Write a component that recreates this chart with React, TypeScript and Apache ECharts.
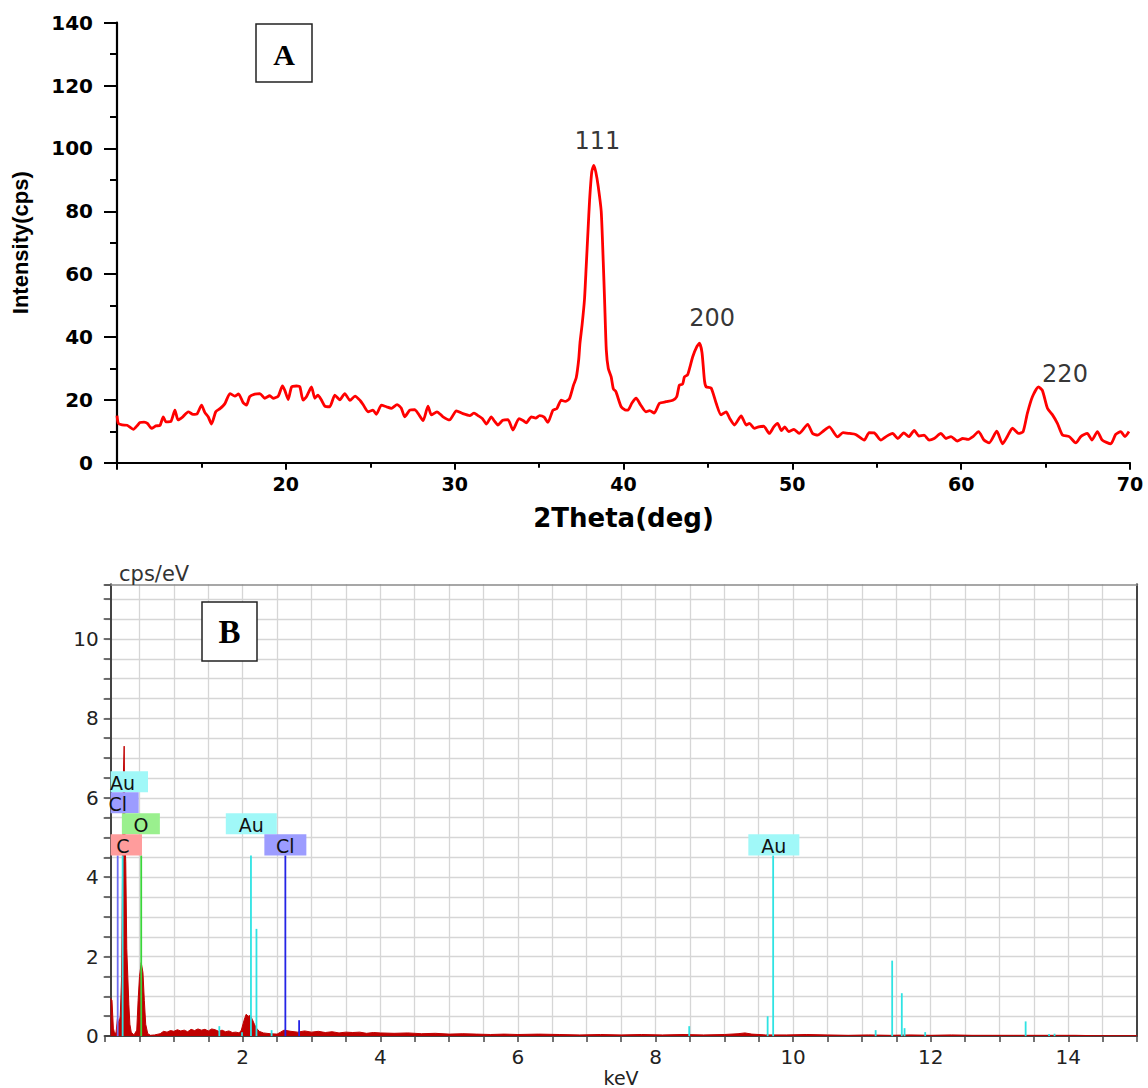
import React, { useEffect, useRef } from 'react';
import * as echarts from 'echarts';

// ---------- Panel A : XRD pattern ----------
const xrdTheta = [
  10.0, 10.08, 10.3, 10.6, 10.97, 11.2, 11.36, 11.6, 11.8, 12.05, 12.3, 12.55, 12.74, 12.9, 13.2, 13.43, 13.62, 13.9,
  14.22, 14.5, 14.75, 15.01, 15.2, 15.4, 15.6, 15.85, 16.1, 16.39, 16.69, 16.98, 17.2, 17.47, 17.67, 17.86, 18.16,
  18.46, 18.75, 19.05, 19.25, 19.55, 19.8, 19.94, 20.14, 20.34, 20.63, 20.83, 21.02, 21.22, 21.52, 21.72, 21.9, 22.1,
  22.31, 22.6, 22.9, 23.2, 23.49, 23.8, 24.1, 24.4, 24.6, 24.87, 25.16, 25.36, 25.66, 25.95, 26.25, 26.59, 26.84,
  27.04, 27.34, 27.63, 27.83, 28.13, 28.42, 28.62, 28.95, 29.31, 29.7, 30.1, 30.49, 30.89, 31.15, 31.38, 31.65,
  31.88, 32.17, 32.36, 32.56, 32.85, 33.16, 33.45, 33.81, 34.05, 34.24, 34.54, 34.8, 35.03, 35.3, 35.52, 35.82,
  36.05, 36.31, 36.55, 36.8, 37.04, 37.2, 37.35, 37.42, 37.55, 37.69, 37.79, 37.9, 37.99, 38.12, 38.24, 38.36,
  38.5, 38.68, 38.8, 38.88, 38.98, 39.1, 39.27, 39.4, 39.55, 39.86, 40.1, 40.26, 40.5, 40.75, 41.0, 41.33, 41.55,
  41.82, 42.13, 42.52, 42.92, 43.15, 43.31, 43.5, 43.61, 43.8, 44.1, 44.35, 44.5, 44.65, 44.8, 44.9, 45.19, 45.49,
  45.78, 46.08, 46.3, 46.57, 46.97, 47.27, 47.46, 47.75, 48.0, 48.3, 48.64, 48.9, 49.13, 49.35, 49.55, 49.78, 50.1,
  50.4, 50.91, 51.2, 51.5, 51.8, 52.19, 52.68, 53.0, 53.4, 53.75, 54.26, 54.55, 54.85, 55.25, 55.55, 55.94, 56.25,
  56.6, 56.9, 57.22, 57.5, 57.8, 58.1, 58.4, 58.8, 59.1, 59.4, 59.78, 60.1, 60.4, 60.7, 61.03, 61.35, 61.66, 62.11,
  62.45, 62.75, 63.04, 63.4, 63.67, 63.92, 64.22, 64.58, 64.81, 65.11, 65.4, 65.7, 66.0, 66.4, 66.79, 67.1, 67.47,
  67.75, 68.07, 68.35, 68.86, 69.15, 69.45, 69.7, 69.94,
];
const xrdIntensity = [
  15.0, 12.5, 12.0, 11.9, 10.6, 11.8, 12.8, 12.9, 12.5, 10.9, 11.7, 11.9, 14.6, 13.0, 13.2, 16.7, 13.6, 14.6,
  16.2, 15.4, 15.6, 18.3, 16.0, 14.6, 12.3, 16.2, 17.2, 18.8, 22.0, 21.2, 21.9, 19.1, 18.3, 21.0, 21.8,
  22.0, 20.5, 21.3, 20.5, 21.2, 24.4, 23.0, 20.1, 24.1, 24.4, 24.1, 19.9, 21.0, 24.1, 20.5, 21.5, 20.0,
  18.0, 17.8, 21.5, 20.0, 22.0, 19.8, 21.2, 19.8, 18.3, 16.2, 16.7, 15.4, 18.3, 17.8, 17.3, 18.5, 17.3,
  14.6, 16.7, 16.9, 15.7, 13.4, 18.0, 15.2, 16.2, 14.6, 13.6, 16.5, 15.6, 15.0, 15.8, 15.0, 14.0,
  12.3, 14.6, 13.2, 12.0, 13.5, 13.7, 10.4, 14.0, 13.4, 12.7, 14.6, 14.2, 15.0, 14.5, 12.8, 16.7,
  17.2, 19.9, 19.5, 20.4, 24.7, 27.0, 33.0, 38.0, 44.0, 52.0, 62.3, 74.0, 83.4, 92.5, 94.6, 92.5,
  88.0, 80.0, 64.0, 51.7, 36.0, 30.0, 27.3, 23.5, 22.6, 17.8, 16.8, 16.7, 19.0, 20.5, 18.5, 16.2, 16.6,
  15.8, 18.9, 19.4, 19.9, 21.0, 24.7, 25.0, 27.3, 28.0, 33.7, 37.0, 38.0, 35.0, 26.0, 24.1, 23.8, 18.9,
  15.2, 16.2, 14.0, 12.0, 14.9, 12.0, 12.5, 10.9, 11.4, 11.6, 9.3, 11.4, 12.5, 10.2, 11.4, 9.9, 10.6,
  9.3, 12.2, 9.3, 8.8, 9.9, 11.4, 8.2, 9.6, 9.3, 9.0, 7.2, 9.6, 9.5, 7.2, 8.3, 9.3, 7.7,
  9.5, 8.3, 10.3, 8.5, 8.8, 7.2, 7.7, 9.3, 7.7, 8.3, 6.9, 7.7, 7.4, 8.3, 9.9, 7.2, 6.3, 10.0,
  6.0, 8.5, 11.0, 9.3, 9.9, 15.7, 21.0, 24.1, 23.0, 17.3, 15.3, 12.5, 8.8, 8.3, 6.3, 8.4, 9.3,
  7.2, 9.9, 7.2, 6.0, 9.0, 9.9, 8.3, 9.9,
];
const peakLabelTheta = [38.45, 45.25, 66.15];
const peakLabelIntensity = [102.5, 46.0, 28.2];
const peakLabelText = ['111', '200', '220'];

// ---------- Panel B : EDS spectrum ----------
const edsKeV = [
  0.08, 0.1, 0.12, 0.14, 0.16, 0.18, 0.2, 0.22, 0.24, 0.255, 0.265, 0.277, 0.29, 0.3, 0.315, 0.33, 0.345, 0.36,
  0.38, 0.42, 0.46, 0.48, 0.5, 0.525, 0.55, 0.57, 0.59, 0.62, 0.66, 0.72, 0.8, 0.85, 0.9, 0.95, 1.0, 1.05, 1.1,
  1.15, 1.2, 1.25, 1.3, 1.35, 1.4, 1.45, 1.5, 1.55, 1.6, 1.65, 1.7, 1.75, 1.8, 1.85, 1.9, 1.95, 1.98, 2.02, 2.05,
  2.08, 2.11, 2.14, 2.17, 2.2, 2.24, 2.3, 2.4, 2.5, 2.55, 2.6, 2.7, 2.8, 2.9, 3.0, 3.1, 3.2, 3.3, 3.4, 3.5, 3.6,
  3.7, 3.8, 3.9, 4.0, 4.2, 4.4, 4.6, 4.8, 5.0, 5.2, 5.4, 5.6, 5.8, 6.0, 6.3, 6.6, 6.9, 7.2, 7.5, 7.8, 8.1, 8.4,
  8.7, 9.0, 9.2, 9.3, 9.4, 9.6, 9.9, 10.2, 10.5, 10.8, 11.1, 11.4, 11.7, 12.0, 12.3, 12.6, 12.9, 13.2, 13.5,
  13.8, 14.1, 14.4, 14.7, 15.0,
];
const edsCps = [
  0.95, 0.9, 0.2, 0.05, 0.1, 0.45, 0.3, 0.5, 1.5, 4.5, 6.5, 7.3, 4.8, 4.4, 2.2, 1.5, 0.8, 0.3,
  0.1, 0.03, 0.15, 0.9, 1.5, 1.85, 1.6, 0.9, 0.3, 0.06, 0.02, 0.03, 0.06, 0.12, 0.1, 0.14, 0.12, 0.16, 0.13,
  0.15, 0.11, 0.17, 0.14, 0.18, 0.15, 0.17, 0.13, 0.18, 0.16, 0.12, 0.15, 0.11, 0.13, 0.09, 0.1, 0.08, 0.15, 0.4, 0.55,
  0.5, 0.52, 0.42, 0.3, 0.2, 0.12, 0.08, 0.06, 0.05, 0.1, 0.15, 0.12, 0.1, 0.13, 0.1, 0.12, 0.09, 0.11, 0.08, 0.1, 0.09,
  0.1, 0.07, 0.09, 0.08, 0.07, 0.08, 0.06, 0.07, 0.05, 0.06, 0.05, 0.04, 0.05, 0.04, 0.05, 0.04, 0.03, 0.04, 0.03, 0.04, 0.03, 0.04,
  0.03, 0.04, 0.06, 0.08, 0.05, 0.03, 0.03, 0.04, 0.03, 0.02, 0.03, 0.02, 0.03, 0.02, 0.03, 0.02, 0.02, 0.02, 0.02,
  0.02, 0.02, 0.01, 0.01, 0.01,
];
// element marker lines
const lineKeV = [0.183, 0.255, 0.525, 1.66, 1.99, 2.12, 2.2, 2.42, 2.62, 2.82, 8.49, 9.63, 9.71, 11.2, 11.44, 11.58, 11.62, 11.92, 13.38, 13.72, 13.8];
const lineHeight = [4.55, 4.55, 4.55, 0.25, 0.1, 4.55, 2.7, 0.15, 4.55, 0.4, 0.25, 0.5, 4.55, 0.15, 1.9, 1.08, 0.2, 0.1, 0.37, 0.05, 0.06];
const lineFamily = ['Cl L', 'Au', 'O', 'Au', 'Au', 'Au', 'Au', 'Au', 'Cl K', 'Cl K', 'Au', 'Au', 'Au', 'Au', 'Au', 'Au', 'Au', 'Au', 'Au', 'Au', 'Au'];
// element labels
const labelKeV = [0.253, 0.183, 0.52, 0.26, 2.125, 2.62, 9.72];
const labelText = ['Au', 'Cl', 'O', 'C', 'Au', 'Cl', 'Au'];
const labelRow = [3, 2, 1, 0, 1, 0, 0];

const lineColors: Record<string, string> = {
  Au: '#2fe3e3',
  'Cl K': '#2424e6',
  'Cl L': '#6e6ef2',
  O: '#3ad63a',
};
const labelBg: Record<string, string> = { Au: '#a0f8f8', Cl: '#9c9cff', O: '#9af08e', C: '#ff9c9c' };
const labelWidth: Record<string, number> = { Au: 51, Cl: 42, O: 38, C: 38 };

const isEven = (v: number) => Math.abs(v - Math.round(v / 2) * 2) < 1e-6;

export default function App() {
  const ref = useRef<HTMLDivElement>(null);
  useEffect(() => {
    if (!ref.current) return;
    const chart = echarts.init(ref.current, undefined, { renderer: 'svg' });
    const sans = 'DejaVu Sans';
    const option: any = {
      animation: false,
      backgroundColor: '#ffffff',
      textStyle: { fontFamily: sans },
      grid: [
        { left: 117, top: 22.7, width: 1013, height: 440 },
        { left: 105.1, top: 584.3, width: 1032, height: 454.7 },
      ],
      xAxis: [
        {
          gridIndex: 0, type: 'value', min: 10, max: 70, interval: 10,
          axisLine: { onZero: false, lineStyle: { color: '#000', width: 2.2 } },
          axisTick: { length: 7, lineStyle: { color: '#000', width: 2 } },
          minorTick: { show: true, splitNumber: 2, length: 5, lineStyle: { color: '#000', width: 2 } },
          axisLabel: { showMinLabel: false, fontFamily: sans, fontWeight: 'bold', fontSize: 19, color: '#000', margin: 12 },
          splitLine: { show: false },
          name: '2Theta(deg)', nameLocation: 'middle', nameGap: 42,
          nameTextStyle: { fontFamily: sans, fontWeight: 'bold', fontSize: 26, color: '#000' },
        },
        {
          gridIndex: 1, type: 'value', min: 0, max: 15, interval: 0.5,
          axisLine: { onZero: false, lineStyle: { color: '#444', width: 2 } },
          axisTick: { length: 6, lineStyle: { color: '#444', width: 1.5 } },
          axisLabel: {
            formatter: (v: number) => (v > 0 && isEven(v) ? String(v) : ''),
            fontFamily: sans, fontSize: 20, color: '#222', margin: 11,
          },
          splitLine: { show: true, showMinLine: false, showMaxLine: false, lineStyle: { color: '#d6d6d6', width: 1.3 } },
          name: 'keV', nameLocation: 'middle', nameGap: 31,
          nameTextStyle: { fontFamily: sans, fontSize: 19, color: '#222' },
        },
        {
          gridIndex: 1, type: 'value', position: 'top', min: 0, max: 15,
          axisLine: { show: true, onZero: false, lineStyle: { color: '#8a8a8a', width: 1.5 } },
          axisTick: { show: false }, axisLabel: { show: false }, splitLine: { show: false },
        },
      ],
      yAxis: [
        {
          gridIndex: 0, type: 'value', min: 0, max: 140, interval: 20,
          axisLine: { show: true, onZero: false, lineStyle: { color: '#000', width: 2.2 } },
          axisTick: { show: true, length: 13, lineStyle: { color: '#000', width: 2 } },
          minorTick: { show: true, splitNumber: 2, length: 7, lineStyle: { color: '#000', width: 2 } },
          axisLabel: { fontFamily: sans, fontWeight: 'bold', fontSize: 20, color: '#000', margin: 24 },
          splitLine: { show: false },
          name: 'Intensity(cps)', nameLocation: 'middle', nameGap: 86,
          nameTextStyle: { fontFamily: 'Liberation Sans', fontWeight: 'bold', fontSize: 22, color: '#000' },
        },
        {
          gridIndex: 1, type: 'value', min: 0, max: 11.375, interval: 0.5, offset: -5.6,
          axisLine: { show: true, onZero: false, lineStyle: { color: '#444', width: 2 } },
          axisTick: { show: true, length: 7, lineStyle: { color: '#444', width: 1.5 } },
          axisLabel: {
            formatter: (v: number) => (isEven(v) ? String(v) : ''),
            fontFamily: sans, fontSize: 20, color: '#222', margin: 12,
          },
          splitLine: { show: true, showMinLine: false, showMaxLine: false, lineStyle: { color: '#d6d6d6', width: 1.3 } },
        },
        {
          gridIndex: 1, type: 'value', position: 'right', min: 0, max: 11.375,
          axisLine: { show: true, onZero: false, lineStyle: { color: '#444', width: 2 } },
          axisTick: { show: false }, axisLabel: { show: false }, splitLine: { show: false },
        },
      ],
      series: [
        {
          type: 'line', xAxisIndex: 0, yAxisIndex: 0,
          data: xrdTheta.map((t, i) => [t, xrdIntensity[i]]),
          symbol: 'none', smooth: 0.2,
          lineStyle: { color: '#ff0000', width: 2.8 },
          z: 3,
        },
        {
          type: 'scatter', xAxisIndex: 0, yAxisIndex: 0,
          data: peakLabelTheta.map((t, i) => [t, peakLabelIntensity[i], peakLabelText[i]]),
          symbolSize: 1, itemStyle: { color: 'rgba(0,0,0,0)' },
          label: {
            show: true, position: 'inside', formatter: (p: any) => p.value[2],
            fontFamily: sans, fontSize: 24, color: '#000',
          },
          z: 4,
        },
        {
          type: 'line', xAxisIndex: 1, yAxisIndex: 1,
          data: edsKeV.map((k, i) => [k, edsCps[i]]),
          symbol: 'none',
          lineStyle: { color: '#c00000', width: 1 },
          areaStyle: { color: '#c00000', opacity: 1 },
          z: 2,
        },
        {
          type: 'custom', xAxisIndex: 1, yAxisIndex: 1,
          data: lineKeV.map((k, i) => [k, lineHeight[i], i]),
          encode: { x: 0, y: 1 },
          renderItem: (params: any, api: any) => {
            const i = api.value(2);
            const p0 = api.coord([api.value(0), 0]);
            const p1 = api.coord([api.value(0), api.value(1)]);
            return {
              type: 'line',
              shape: { x1: p0[0], y1: p0[1], x2: p1[0], y2: p1[1] },
              style: { stroke: lineColors[lineFamily[i]], lineWidth: 1.8 },
            };
          },
          z: 3,
        },
        {
          type: 'custom', xAxisIndex: 1, yAxisIndex: 1,
          data: labelKeV.map((k, i) => [k, labelRow[i], i]),
          encode: { x: 0, y: 1 },
          renderItem: (params: any, api: any) => {
            const i = api.value(2);
            const row = api.value(1);
            const txt = labelText[i];
            const bottom = api.coord([api.value(0), 4.55 + row * 0.53]);
            const top = api.coord([api.value(0), 4.55 + (row + 1) * 0.53]);
            const clipLeft = api.coord([0.08, 0])[0];
            const w = labelWidth[txt];
            let left = bottom[0] - w / 2;
            const right = bottom[0] + w / 2;
            if (left < clipLeft) left = clipLeft;
            return {
              type: 'group',
              children: [
                {
                  type: 'rect',
                  shape: { x: left, y: top[1], width: right - left, height: bottom[1] - top[1] },
                  style: { fill: labelBg[txt] },
                },
                {
                  type: 'text',
                  x: bottom[0], y: (top[1] + bottom[1]) / 2 + 1,
                  style: { text: txt, font: '19px "DejaVu Sans"', fill: '#111', align: 'center', verticalAlign: 'middle' },
                },
              ],
            };
          },
          z: 5,
        },
      ],
      graphic: [
        { type: 'rect', shape: { x: 256, y: 24, width: 56, height: 58 }, style: { fill: '#fff', stroke: '#222', lineWidth: 1.5 }, z: 10 },
        { type: 'text', x: 284, y: 54, style: { text: 'A', font: 'bold 30px "Liberation Serif"', fill: '#000', align: 'center', verticalAlign: 'middle' }, z: 11 },
        { type: 'rect', shape: { x: 202, y: 602, width: 55, height: 59 }, style: { fill: '#fff', stroke: '#222', lineWidth: 1.5 }, z: 10 },
        { type: 'text', x: 229.5, y: 632, style: { text: 'B', font: 'bold 33px "Liberation Serif"', fill: '#000', align: 'center', verticalAlign: 'middle' }, z: 11 },
        { type: 'text', x: 119, y: 574, style: { text: 'cps/eV', font: '21px "DejaVu Sans"', fill: '#333', align: 'left', verticalAlign: 'middle' }, z: 11 },
      ],
    };
    chart.setOption(option);
    return () => chart.dispose();
  }, []);
  return <div ref={ref} style={{ position: 'fixed', left: 0, top: 0, width: 1148, height: 1088, background: '#fff' }} />;
}
